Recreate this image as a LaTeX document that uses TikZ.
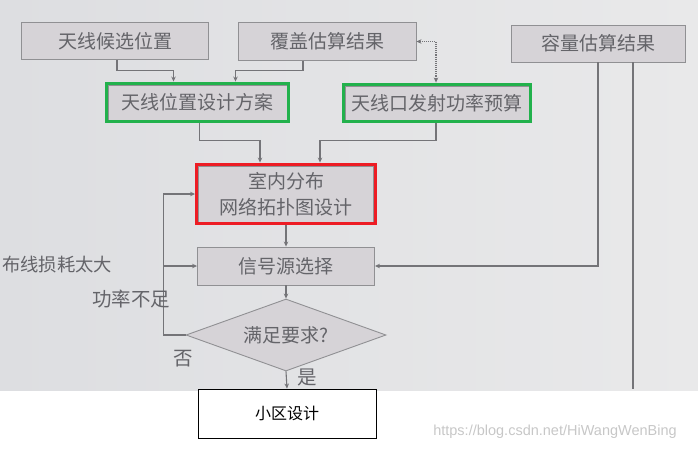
\documentclass[tikz,border=0pt]{standalone}
\usepackage{fontspec}
\setmainfont{Noto Sans CJK SC}
\newfontfamily\urlfont{Liberation Sans}
\usetikzlibrary{positioning,arrows.meta,calc,fit,shapes.geometric}
\definecolor{photobg}{HTML}{DDDEE1}
\definecolor{photobgr}{HTML}{E9E9EA}
\definecolor{boxgray}{HTML}{D6D3D7}
\definecolor{linegray}{HTML}{747478}
\definecolor{textgray}{HTML}{646469}
\definecolor{markgreen}{HTML}{22B14C}
\definecolor{markred}{HTML}{ED1C24}

\begin{document}
\begin{tikzpicture}[x=1pt,y=-1pt,
 box/.style={draw=linegray!80,fill=boxgray,line width=0.9pt,inner sep=2pt,text=textgray,font=\fontsize{19}{23}\selectfont,align=center},
 frame/.style={draw=#1,line width=3pt,inner sep=1.5pt},
 decision/.style={box,diamond,shape aspect=2.8,minimum width=200pt,minimum height=72pt,inner sep=0pt},
 result/.style={draw=black,fill=white,line width=0.9pt,minimum width=178pt,minimum height=49pt,font=\fontsize{16}{19}\selectfont},
 tag/.style={text=textgray,font=\fontsize{19.5}{23}\selectfont,inner sep=0pt},
 arr/.style={-{Stealth[length=5pt,width=4.5pt]},draw=linegray,line width=1.1pt},
 dotarr/.style={{Stealth[length=5pt,width=4.5pt]}-{Stealth[length=5pt,width=4.5pt]},draw=linegray,line width=1.1pt,densely dotted}]
\useasboundingbox (0,0) rectangle (698,450);
\clip (0,0) rectangle (698,450);
\shade[left color=photobg,right color=photobgr] (0,0) rectangle (698,390);
% top row
\node[box,minimum width=187pt,minimum height=37pt] (cand) at (115,41) {天线候选位置};
\node[box,minimum width=178pt,minimum height=38pt] (cover) at (327,41.5) {覆盖估算结果};
\node[box,minimum width=174pt,minimum height=37pt] (cap) at (598,43.5) {容量估算结果};
% marked boxes
\node[box,minimum width=179pt,minimum height=35pt] (place) at (197.5,102.5) {天线位置设计方案};
\node[frame=markgreen,fit=(place)] (placefr) {};
\node[box,minimum width=184pt,minimum height=34pt] (power) at (437,103) {天线口发射功率预算};
\node[frame=markgreen,fit=(power)] (powerfr) {};
\node[box,minimum width=175pt,minimum height=56pt,font=\fontsize{19}{26}\selectfont] (topo) at (286,194) {室内分布\\网络拓扑图设计};
\node[frame=markred,fit=(topo)] (topofr) {};
\node[box,minimum width=177pt,minimum height=38pt] (src) at (286,266) {信号源选择};
\node[decision] (chk) at (286,335) {满足要求?};
\node[result] (cell) at (287,413.5) {小区设计};
% connectors
\draw[arr] ([xshift=2]cand.south) -- ++(0,10.5) -| ([xshift=-24]placefr.north);
\draw[arr] ([xshift=-24]cover.south) -- ++(0,9.5) -| ([xshift=38]placefr.north);
\draw[dotarr] (cover.east) -| ([xshift=-1]powerfr.north);
\draw[arr] ([xshift=2]placefr.south) -- ++(0,17) -| ([xshift=-26]topofr.north);
\draw[arr] ([xshift=-1]powerfr.south) -- ++(0,17) -| ([xshift=34]topofr.north);
\draw[arr] (cap.south) |- (src.east);
\draw[linegray,line width=1.1pt] ([xshift=35]cap.south) -- ([xshift=35]cap.south |- cell.north);
\draw[arr] (topofr.south) -- (src.north);
\draw[arr] (src.south) -- (chk.north);
\draw[arr] (chk.south) -- (cell.north);
\draw[arr] (chk.west) -- ++(-22,0) coordinate (loop) |- (topofr.west);
\draw[arr] (loop |- src.west) -- (src.west);
% labels
\node[tag,anchor=west,font=\fontsize{18.3}{22}\selectfont] (loss) at (2,265) {布线损耗太大};
\node[tag] (lowpow) at (131,299) {功率不足};
\node[tag] (no) at (183,359) {否};
\node[tag] (yes) at (307,377) {是};
\node[text=black!22,font=\urlfont\fontsize{14.5}{17}\selectfont] (mark) at (555,432) {https://blog.csdn.net/HiWangWenBing};
\end{tikzpicture}
\end{document}
